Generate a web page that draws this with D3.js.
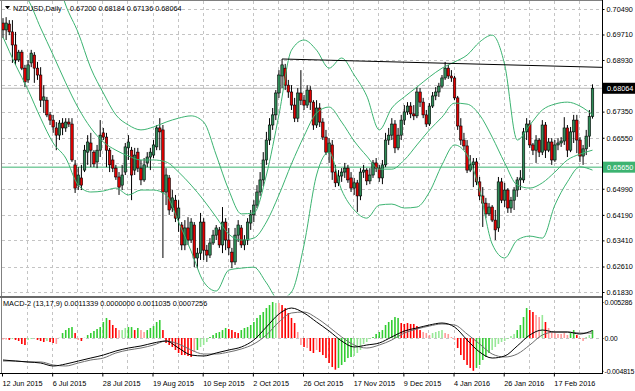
<!DOCTYPE html>
<html><head><meta charset="utf-8">
<script src="https://cdn.jsdelivr.net/npm/d3@7/dist/d3.min.js"></script>
<style>
html,body{margin:0;padding:0;background:#fff;}
svg{display:block;}
text{font-family:"Liberation Sans",Arial,sans-serif;font-size:7.3px;fill:#000;}
</style></head><body>
<svg id="c" width="635" height="391"></svg>
<script>
// ---------------- DATA ----------------
const symbolTitle = "NZDUSD,Daily";
const lastBarText = "0.67200 0.68184 0.67136 0.68064";
const macdTitle = "MACD-2 (13,17,9) 0.0011339 0.0000000 0.0011035 0.0007256";

const open = [
0.7006,0.6985,0.7003,0.6979,0.6939,0.6893,0.6917,0.6868,0.6832,0.6884,
0.6908,0.6868,0.6847,0.6770,0.6770,0.6725,0.6709,0.6685,0.6663,0.6700,
0.6685,0.6703,0.6697,0.6572,0.6510,0.6532,0.6556,0.6611,0.6639,0.6611,
0.6581,0.6617,0.6670,0.6657,0.6617,0.6587,0.6562,0.6535,0.6510,0.6550,
0.6624,0.6617,0.6556,0.6611,0.6562,0.6526,0.6578,0.6596,0.6602,0.6627,
0.6685,0.6679,0.6489,0.6532,0.6440,0.6464,0.6409,0.6388,0.6327,0.6379,
0.6342,0.6388,0.6287,0.6302,0.6397,0.6311,0.6296,0.6333,0.6357,0.6373,
0.6327,0.6397,0.6342,0.6305,0.6275,0.6357,0.6379,0.6327,0.6342,0.6394,
0.6419,0.6449,0.6489,0.6526,0.6587,0.6648,0.6694,0.6725,0.6792,0.6844,
0.6868,0.6816,0.6795,0.6755,0.6715,0.6792,0.6770,0.6755,0.6801,0.6764,
0.6694,0.6746,0.6703,0.6657,0.6611,0.6633,0.6550,0.6517,0.6538,0.6550,
0.6562,0.6532,0.6501,0.6517,0.6477,0.6550,0.6556,0.6523,0.6541,0.6578,
0.6562,0.6532,0.6572,0.6648,0.6663,0.6697,0.6624,0.6663,0.6709,0.6734,
0.6752,0.6728,0.6722,0.6795,0.6764,0.6725,0.6697,0.6752,0.6783,0.6795,
0.6813,0.6838,0.6868,0.6844,0.6838,0.6777,0.6691,0.6648,0.6630,0.6556,
0.6572,0.6581,0.6520,0.6477,0.6455,0.6422,0.6443,0.6403,0.6379,0.6520,
0.6464,0.6495,0.6440,0.6464,0.6495,0.6526,0.6526,0.6673,0.6697,0.6633,
0.6617,0.6648,0.6611,0.6694,0.6617,0.6642,0.6587,0.6633,0.6639,0.6645,
0.6685,0.6617,0.6673,0.6709,0.6648,0.6599,0.6621,0.6660,0.67200];

const high = [
0.7021,0.7024,0.7015,0.7015,0.6979,0.6924,0.6924,0.6878,0.6893,0.6924,
0.6917,0.6887,0.6871,0.6816,0.6780,0.6734,0.6725,0.6703,0.6709,0.6715,
0.6715,0.6715,0.6715,0.6587,0.6565,0.6572,0.6633,0.6663,0.6670,0.6617,
0.6633,0.6709,0.6685,0.6670,0.6624,0.6602,0.6572,0.6550,0.6572,0.6639,
0.6663,0.6627,0.6624,0.6624,0.6587,0.6593,0.6611,0.6624,0.6648,0.6694,
0.6715,0.6694,0.6562,0.6541,0.6495,0.6480,0.6464,0.6397,0.6403,0.6412,
0.6409,0.6397,0.6318,0.6425,0.6409,0.6327,0.6348,0.6373,0.6388,0.6382,
0.6443,0.6409,0.6379,0.6318,0.6379,0.6403,0.6388,0.6357,0.6409,0.6434,
0.6464,0.6510,0.6550,0.6611,0.6673,0.6715,0.6746,0.6801,0.6862,0.6896,
0.6881,0.6832,0.6816,0.6777,0.6807,0.6862,0.6786,0.6816,0.6813,0.6770,
0.6770,0.6761,0.6715,0.6679,0.6654,0.6648,0.6572,0.6556,0.6562,0.6578,
0.6572,0.6550,0.6532,0.6526,0.6562,0.6572,0.6562,0.6562,0.6587,0.6593,
0.6572,0.6587,0.6670,0.6685,0.6715,0.6709,0.6685,0.6725,0.6755,0.6764,
0.6764,0.6755,0.6810,0.6807,0.6777,0.6740,0.6761,0.6795,0.6810,0.6823,
0.6847,0.6887,0.6878,0.6862,0.6844,0.6783,0.6715,0.6670,0.6648,0.6602,
0.6593,0.6593,0.6535,0.6504,0.6471,0.6455,0.6449,0.6434,0.6535,0.6532,
0.6517,0.6501,0.6474,0.6504,0.6535,0.6556,0.6685,0.6715,0.6709,0.6639,
0.6663,0.6654,0.6709,0.6703,0.6654,0.6654,0.6648,0.6654,0.6657,0.6718,
0.6694,0.6688,0.6725,0.6725,0.6657,0.6633,0.6679,0.6740,0.68184];

const low = [
0.6960,0.6954,0.6969,0.6884,0.6878,0.6887,0.6862,0.6810,0.6823,0.6871,
0.6823,0.6832,0.6749,0.6731,0.6718,0.6694,0.6670,0.6617,0.6648,0.6663,
0.6673,0.6688,0.6581,0.6486,0.6495,0.6495,0.6550,0.6572,0.6565,0.6565,
0.6562,0.6596,0.6648,0.6565,0.6550,0.6550,0.6526,0.6480,0.6495,0.6541,
0.6587,0.6464,0.6541,0.6550,0.6510,0.6520,0.6565,0.6556,0.6593,0.6617,
0.6617,0.6287,0.6449,0.6419,0.6428,0.6397,0.6367,0.6311,0.6311,0.6327,
0.6333,0.6259,0.6256,0.6281,0.6281,0.6275,0.6287,0.6327,0.6342,0.6318,
0.6302,0.6311,0.6296,0.6256,0.6266,0.6336,0.6318,0.6311,0.6327,0.6373,
0.6397,0.6440,0.6477,0.6507,0.6572,0.6633,0.6679,0.6709,0.6777,0.6807,
0.6801,0.6777,0.6740,0.6703,0.6703,0.6755,0.6740,0.6746,0.6740,0.6679,
0.6685,0.6688,0.6648,0.6602,0.6578,0.6526,0.6504,0.6507,0.6520,0.6532,
0.6517,0.6489,0.6480,0.6428,0.6464,0.6532,0.6510,0.6513,0.6532,0.6550,
0.6520,0.6513,0.6565,0.6633,0.6648,0.6608,0.6617,0.6648,0.6694,0.6725,
0.6715,0.6709,0.6715,0.6749,0.6715,0.6688,0.6691,0.6746,0.6770,0.6780,
0.6807,0.6832,0.6835,0.6826,0.6770,0.6679,0.6633,0.6617,0.6547,0.6550,
0.6504,0.6510,0.6464,0.6382,0.6409,0.6416,0.6397,0.6342,0.6367,0.6455,
0.6443,0.6425,0.6425,0.6434,0.6474,0.6495,0.6517,0.6648,0.6624,0.6602,
0.6578,0.6596,0.6602,0.6593,0.6611,0.6572,0.6581,0.6617,0.6627,0.6633,
0.6596,0.6611,0.6639,0.6608,0.6581,0.6572,0.6602,0.6627,0.67136];

const close = [
0.6985,0.7006,0.6979,0.6939,0.6893,0.6917,0.6868,0.6826,0.6878,0.6914,
0.6868,0.6847,0.6770,0.6780,0.6725,0.6709,0.6688,0.6663,0.6700,0.6685,
0.6703,0.6697,0.6587,0.6501,0.6541,0.6510,0.6617,0.6642,0.6617,0.6575,
0.6617,0.6663,0.6657,0.6617,0.6572,0.6562,0.6535,0.6504,0.6541,0.6627,
0.6642,0.6541,0.6602,0.6562,0.6526,0.6572,0.6596,0.6611,0.6633,0.6685,
0.6673,0.6489,0.6541,0.6434,0.6471,0.6409,0.6440,0.6327,0.6379,0.6342,
0.6397,0.6287,0.6302,0.6397,0.6311,0.6296,0.6333,0.6357,0.6379,0.6327,
0.6397,0.6342,0.6318,0.6275,0.6357,0.6388,0.6327,0.6342,0.6397,0.6419,
0.6449,0.6489,0.6526,0.6587,0.6648,0.6694,0.6725,0.6792,0.6847,0.6878,
0.6816,0.6795,0.6755,0.6715,0.6792,0.6770,0.6755,0.6801,0.6764,0.6694,
0.6746,0.6703,0.6657,0.6611,0.6639,0.6550,0.6517,0.6538,0.6550,0.6562,
0.6526,0.6501,0.6517,0.6477,0.6550,0.6556,0.6523,0.6541,0.6578,0.6562,
0.6532,0.6572,0.6648,0.6663,0.6697,0.6624,0.6663,0.6709,0.6734,0.6752,
0.6728,0.6722,0.6795,0.6764,0.6725,0.6697,0.6752,0.6783,0.6795,0.6813,
0.6838,0.6868,0.6844,0.6838,0.6777,0.6691,0.6648,0.6630,0.6556,0.6572,
0.6581,0.6520,0.6477,0.6455,0.6422,0.6443,0.6403,0.6373,0.6520,0.6464,
0.6495,0.6440,0.6464,0.6495,0.6526,0.6532,0.6673,0.6697,0.6633,0.6617,
0.6648,0.6611,0.6694,0.6617,0.6642,0.6587,0.6633,0.6639,0.6645,0.6685,
0.6617,0.6673,0.6709,0.6648,0.6599,0.6621,0.6660,0.6720,0.68064];

// Bollinger bands every 4th bar
const bandIndex = [0,4,8,12,16,20,24,28,32,36,40,44,48,52,56,60,64,68,72,76,80,84,88,92,96,100,104,108,112,116,120,124,128,132,136,140,144,148,152,156,160,164,168,172,176,180,184,188];
const bandUpper = [0.7352,0.7367,0.7352,0.7275,0.7184,0.7061,0.6976,0.6868,0.6792,0.6725,
0.6694,0.6679,0.6688,0.6703,0.6715,0.6722,0.6703,0.6602,0.6495,0.6422,
0.6425,0.6541,0.6725,0.6923,0.6954,0.6923,0.6868,0.6899,0.6847,0.6783,
0.6679,0.6746,0.6780,0.6810,0.6841,0.6868,0.6887,0.6908,0.6948,0.6969,
0.6878,0.6648,0.6694,0.6740,0.6758,0.6764,0.6752,0.6725];
const bandMiddle = [0.7153,0.7113,0.7077,0.6991,0.6908,0.6823,0.6746,0.6685,0.6642,0.6617,
0.6599,0.6587,0.6587,0.6581,0.6550,0.6510,0.6464,0.6412,0.6360,0.6342,
0.6348,0.6397,0.6480,0.6575,0.6660,0.6731,0.6749,0.6703,0.6645,0.6599,
0.6559,0.6559,0.6587,0.6633,0.6679,0.6718,0.6761,0.6758,0.6725,0.6657,
0.6578,0.6510,0.6501,0.6517,0.6550,0.6587,0.6605,0.6617];
const bandLower = [0.6963,0.6878,0.6801,0.6715,0.6639,0.6593,0.6510,0.6489,0.6492,0.6501,
0.6480,0.6495,0.6495,0.6480,0.6397,0.6308,0.6214,0.6186,0.6250,0.6256,
0.6259,0.6211,0.6159,0.6183,0.6327,0.6541,0.6611,0.6495,0.6434,0.6409,
0.6449,0.6452,0.6440,0.6443,0.6489,0.6572,0.6633,0.6602,0.6495,0.6330,
0.6287,0.6342,0.6354,0.6348,0.6449,0.6520,0.6566,0.6556];

// MACD-2 histogram (one per bar) and its colour state: 0 up, 1 up-weak, 2 down, 3 down-weak
const macdHist = [
-0.00022,-0.00022,-0.00029,-0.00015,-0.00029,-0.00044,-0.00088,-0.00103,-0.00029,-0.00015,
-0.00007,-0.00029,-0.00044,-0.00059,-0.00044,-0.00059,-0.00073,-0.00088,0.00005,0.00073,
0.00117,0.00147,0.00161,0.00073,-0.00029,-0.00044,0.00005,0.00044,0.00073,0.00103,
0.00132,0.00161,0.00235,0.00294,0.00264,0.00191,0.00147,0.00117,0.00117,0.00147,
0.00161,0.00161,0.00117,0.00147,0.00117,0.00088,0.00117,0.00147,0.00176,0.00235,
0.00264,0.00117,-0.00073,-0.00103,-0.00132,-0.00176,-0.00220,-0.00250,-0.00250,-0.00264,
-0.00279,-0.00206,-0.00176,-0.00132,-0.00103,-0.00059,0.00015,0.00044,0.00073,0.00088,
0.00117,0.00147,0.00132,0.00117,0.00088,0.00073,0.00117,0.00147,0.00161,0.00191,
0.00235,0.00294,0.00338,0.00382,0.00440,0.00484,0.005286,0.00514,0.00514,0.00484,
0.00440,0.00367,0.00294,0.00220,0.00088,-0.00103,-0.00132,-0.00147,-0.00191,-0.00220,
-0.00176,-0.00206,-0.00250,-0.00294,-0.00367,-0.00426,-0.00465,-0.00440,-0.00396,-0.00352,
-0.00294,-0.00279,-0.00264,-0.00220,-0.00176,-0.00088,-0.00059,-0.00015,0.00015,0.00059,
0.00088,0.00117,0.00191,0.00235,0.00264,0.00308,0.00294,0.00220,0.00206,0.00220,
0.00206,0.00206,0.00176,0.00117,0.00088,0.00073,0.00044,0.00073,0.00088,0.00103,
0.00117,0.00073,0.00059,0.00015,-0.00029,-0.00147,-0.00250,-0.00323,-0.00396,-0.00440,
-0.004815,-0.00440,-0.00396,-0.00323,-0.00279,-0.00220,-0.00176,-0.00132,-0.00088,-0.00059,
-0.00044,-0.00015,0.00029,0.00059,0.00117,0.00191,0.00308,0.00440,0.00411,0.00382,
0.00338,0.00308,0.00338,0.00235,0.00147,0.00088,0.00073,0.00059,0.00059,0.00073,
0.00044,0.00073,0.00117,0.00044,-0.00005,-0.00044,0.00015,0.00044,0.0011339];
const macdState = [
3,3,2,1,2,2,2,2,1,1, 1,2,2,2,1,2,2,3,1,0, 0,0,0,2,3,2,1,0,0,0, 0,0,0,0,2,2,2,3,1,1,
0,0,2,0,3,3,0,0,0,0, 0,2,2,2,2,2,2,2,2,2, 2,3,0,1,1,1,0,0,0,0, 0,0,2,2,2,2,0,0,0,0,
0,0,0,0,0,0,0,1,3,2, 2,2,2,2,3,3,2,3,2,2, 3,2,2,2,2,2,2,0,0,0, 0,0,1,1,1,1,1,1,0,0,
0,0,0,0,0,0,0,2,2,2, 2,2,2,2,3,3,3,1,1,1, 1,3,3,3,3,2,2,2,2,2, 2,0,0,0,0,0,1,1,1,1,
1,1,1,1,0,0,0,0,2,2, 3,3,1,2,3,3,3,3,3,3, 3,0,0,2,2,3,1,1,0];
const macdIndex = bandIndex;
const macdMain = [-0.00323,-0.00338,-0.00352,-0.00367,-0.00411,-0.00382,-0.00338,-0.00294,-0.00250,-0.00191,
-0.00147,-0.00117,-0.00073,-0.00044,-0.00147,-0.00250,-0.00264,-0.00220,-0.00176,-0.00132,
-0.00029,0.00161,0.00352,0.00440,0.00367,0.00235,0.00103,-0.00044,-0.00132,-0.00103,
-0.00073,0.00015,0.00103,0.00147,0.00191,0.00220,0.00161,-0.00029,-0.00206,-0.00294,
-0.00264,-0.00117,0.00044,0.00117,0.00088,0.00088,0.00059,0.0011035];
const macdSignal = [-0.00338,-0.00338,-0.00352,-0.00352,-0.00396,-0.00411,-0.00367,-0.00323,-0.00294,-0.00220,
-0.00176,-0.00147,-0.00103,-0.00044,-0.00088,-0.00176,-0.00235,-0.00235,-0.00206,-0.00161,
-0.00088,0.00044,0.00235,0.00367,0.00382,0.00294,0.00161,0.00015,-0.00103,-0.00147,
-0.00103,-0.00029,0.00073,0.00132,0.00176,0.00206,0.00191,0.00059,-0.00088,-0.00235,
-0.00279,-0.00235,-0.00103,0.00044,0.00088,0.00088,0.00073,0.0007256];

const priceTicks = [0.70490,0.69710,0.68930,0.68150,0.67350,0.66550,0.65770,0.64990,0.64190,0.63410,0.62610,0.61830];
const hiddenTickLabels = [0.68150,0.65770];   // covered by the price boxes in the original
const macdTicks = [0.005286,0,-0.004815];
const macdTickLabels = ["0.005286","0.00","-0.004815"];
const dateLabels = ["12 Jun 2015","6 Jul 2015","28 Jul 2015","19 Aug 2015","10 Sep 2015","2 Oct 2015","26 Oct 2015","17 Nov 2015","9 Dec 2015","4 Jan 2016","26 Jan 2016","17 Feb 2016"];
const dateLabelIndex = [0,16,32,48,64,80,96,112,128,144,160,176];
const supportLevel = 0.65650;
const lastPrice = 0.68064;
const trendPoints = [{i:89, v:0.6896},{i:141, v:0.6883}];

// ---------------- DRAW ----------------
const W=635,H=391;
const L=2, R=602, mainTop=1, mainBot=295.5, macdTop=298.5, macdBot=373.5;
const svg=d3.select("#c");
const x=d3.scaleLinear().domain([0,open.length-1]).range([3,592.5]);
const y=d3.scaleLinear().domain([0.61830,0.70490]).range([292,9]);
const ym=d3.scaleLinear().domain([-0.004815,0.005286]).range([370.8,302]);

svg.append("rect").attr("width",W).attr("height",H).attr("fill","#fff");
const defs=svg.append("defs");
defs.append("clipPath").attr("id","cm").append("rect").attr("x",L).attr("y",mainTop).attr("width",R-L).attr("height",mainBot-mainTop);
defs.append("clipPath").attr("id","cd").append("rect").attr("x",L).attr("y",macdTop).attr("width",R-L).attr("height",macdBot-macdTop);

// grid
const grid=svg.append("g").attr("stroke","#c4c4c4").attr("stroke-dasharray","3,3").attr("shape-rendering","crispEdges");
const gridIdx=d3.range(8,open.length,8);
gridIdx.forEach(i=>{
  const gx=Math.round(x(i)-1)+0.5;
  grid.append("line").attr("x1",gx).attr("x2",gx).attr("y1",mainTop).attr("y2",mainBot-1);
  grid.append("line").attr("x1",gx).attr("x2",gx).attr("y1",macdTop+1).attr("y2",macdBot);
});
priceTicks.forEach(v=>{
  const gy=Math.round(y(v))+0.5;
  grid.append("line").attr("x1",L).attr("x2",R).attr("y1",gy).attr("y2",gy);
});
grid.append("line").attr("x1",L).attr("x2",R).attr("y1",Math.round(ym(0))+0.5).attr("y2",Math.round(ym(0))+0.5);

// main panel
const gm=svg.append("g").attr("clip-path","url(#cm)");
gm.append("line").attr("x1",L).attr("x2",R).attr("y1",y(supportLevel)).attr("y2",y(supportLevel))
  .attr("stroke","#3cb371").attr("stroke-width",1);
gm.append("line").attr("x1",L).attr("x2",R).attr("y1",y(lastPrice)).attr("y2",y(lastPrice))
  .attr("stroke","#b4b4b4").attr("stroke-width",1);

// candles
const idx=d3.range(open.length);
const cg=gm.append("g");
cg.selectAll("line.w").data(idx).join("line").attr("class","w")
  .attr("x1",i=>x(i)).attr("x2",i=>x(i)).attr("y1",i=>y(high[i])).attr("y2",i=>y(low[i]))
  .attr("stroke","#000").attr("stroke-width",1);
cg.selectAll("rect.b").data(idx).join("rect").attr("class","b")
  .attr("x",i=>x(i)-1.25).attr("width",2.5)
  .attr("y",i=>y(Math.max(open[i],close[i])))
  .attr("height",i=>Math.max(0.8,Math.abs(y(open[i])-y(close[i]))))
  .attr("fill",i=>close[i]>=open[i]?"#2e8b57":"#e00000")
  .attr("stroke","#000").attr("stroke-width",0.6);

// bands
const bandLine=arr=>d3.line().x((d,k)=>x(bandIndex[k])).y(d=>y(d)).curve(d3.curveMonotoneX)(arr);
[bandUpper,bandMiddle,bandLower].forEach(a=>{
  gm.append("path").attr("d",bandLine(a)).attr("fill","none").attr("stroke","#3cb371").attr("stroke-width",1);
});

// trend line (ray through two highs)
const tp=trendPoints, iEnd=x.invert(R);
const vEnd=tp[0].v+(tp[1].v-tp[0].v)*(iEnd-tp[0].i)/(tp[1].i-tp[0].i);
gm.append("line").attr("x1",x(tp[0].i)).attr("y1",y(tp[0].v)).attr("x2",R).attr("y2",y(vEnd))
  .attr("stroke","#000").attr("stroke-width",1);

// MACD panel
const gd=svg.append("g").attr("clip-path","url(#cd)");
const histColor=["#32cd32","#98e898","#ff0000","#ff9a9a"];
gd.selectAll("rect.h").data(idx).join("rect").attr("class","h")
  .attr("x",i=>x(i)-0.8).attr("width",1.6)
  .attr("y",i=>Math.min(ym(0),ym(macdHist[i])))
  .attr("height",i=>Math.abs(ym(macdHist[i])-ym(0)))
  .attr("fill",i=>histColor[macdState[i]]);
const mLine=arr=>d3.line().x((d,k)=>x(macdIndex[k])).y(d=>ym(d)).curve(d3.curveMonotoneX)(arr);
gd.append("path").attr("d",mLine(macdSignal)).attr("fill","none").attr("stroke","#6e6e6e").attr("stroke-width",1);
gd.append("path").attr("d",mLine(macdMain)).attr("fill","none").attr("stroke","#000").attr("stroke-width",1);

// frames
const fr=svg.append("g").attr("shape-rendering","crispEdges");
fr.append("line").attr("x1",0).attr("x2",R).attr("y1",0.5).attr("y2",0.5).attr("stroke","#808080");
fr.append("line").attr("x1",1.5).attr("x2",1.5).attr("y1",0).attr("y2",macdBot).attr("stroke","#808080");
fr.append("rect").attr("x",0).attr("y",295.5).attr("width",R+1).attr("height",2.5).attr("fill","#6a6a6a");
fr.append("line").attr("x1",0).attr("x2",R+1).attr("y1",macdBot).attr("y2",macdBot).attr("stroke","#000");
fr.append("line").attr("x1",R+0.5).attr("x2",R+0.5).attr("y1",0).attr("y2",macdBot).attr("stroke","#000");

// price axis
const fmt5=d3.format(".5f");
const ax=svg.append("g").attr("transform",`translate(${R+0.5},0)`)
  .call(d3.axisRight(y).tickValues(priceTicks)
    .tickFormat(v=>hiddenTickLabels.includes(v)?"":fmt5(v)).tickSize(2).tickPadding(2));
ax.select(".domain").remove();
ax.selectAll("text").style("font-family","Liberation Sans, Arial, sans-serif").style("font-size","7.3px");

// price boxes
function priceBox(v,bg){
  const cy=y(v);
  svg.append("rect").attr("x",R+1).attr("y",cy-5.5).attr("width",W-R-1).attr("height",11).attr("fill",bg);
  svg.append("text").attr("x",R+5).attr("y",cy+2.7).style("fill","#fff").text(fmt5(v));
}
priceBox(lastPrice,"#000");
priceBox(supportLevel,"#3cb371");

// MACD axis
const axm=svg.append("g").attr("transform",`translate(${R+0.5},0)`)
  .call(d3.axisRight(ym).tickValues(macdTicks).tickFormat((d,k)=>macdTickLabels[k]).tickSize(1).tickPadding(1));
axm.select(".domain").remove();
axm.selectAll("text").style("font-family","Liberation Sans, Arial, sans-serif").style("font-size","7px").style("letter-spacing","-0.2px");

// time axis
const axx=svg.append("g").attr("transform",`translate(-1,${macdBot})`)
  .call(d3.axisBottom(x).tickValues(dateLabelIndex).tickFormat((d,k)=>dateLabels[k]).tickSize(3).tickPadding(4));
axx.select(".domain").remove();
axx.selectAll("text").attr("text-anchor","start").attr("dy","0.7em")
  .style("font-family","Liberation Sans, Arial, sans-serif").style("font-size","7.3px");

// titles
svg.append("path").attr("d","M5,6 L10,6 L7.5,9.3 Z").attr("fill","#000");
svg.append("text").attr("x",13).attr("y",10.7).text(symbolTitle);
svg.append("text").attr("x",70).attr("y",10.7).text(lastBarText);
svg.append("text").attr("x",3).attr("y",306.3).text(macdTitle);
</script>
</body></html>
